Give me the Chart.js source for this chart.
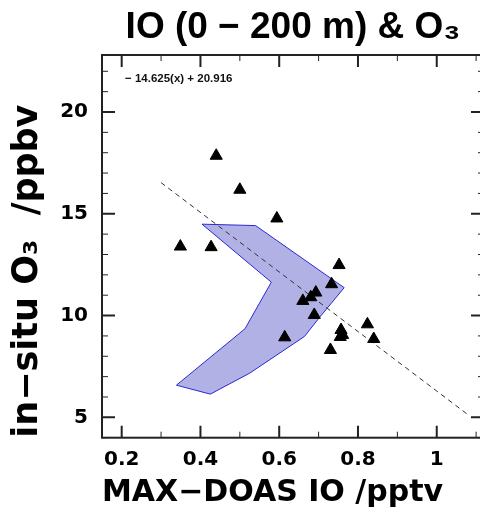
<!DOCTYPE html>
<html>
<head>
<meta charset="utf-8">
<script src="https://cdn.jsdelivr.net/npm/chart.js@4/dist/chart.umd.min.js"></script>
<style>
  html, body { margin: 0; padding: 0; background: #fff; overflow: hidden; }
  #chart { display: block; }
</style>
</head>
<body>
<canvas id="chart" width="492" height="517"></canvas>
<script>
// observed points (MAX-DOAS IO vs in-situ O3)
const obsX = [0.44, 0.50, 0.594, 0.349, 0.427, 0.752, 0.733, 0.693, 0.680, 0.660, 0.689, 0.614, 0.824, 0.757, 0.761, 0.755, 0.840, 0.730];
const obsY = [17.85, 16.18, 14.77, 13.39, 13.36, 12.48, 11.54, 11.13, 10.90, 10.72, 10.03, 8.93, 9.57, 9.29, 9.05, 8.95, 8.85, 8.31];

// shaded envelope, outline in drawing order
const bandX = [0.404, 0.540, 0.765, 0.702, 0.664, 0.525, 0.425, 0.339, 0.513, 0.580, 0.404];
const bandY = [14.49, 14.42, 11.37, 9.90, 8.97, 7.17, 6.14, 6.58, 9.35, 11.64, 14.49];

// fitted line, end points
const fitX = [0.30, 1.078];
const fitY = [16.53, 5.15];
const fitText = "− 14.625(x) + 20.916";

const xRange = [0.15, 1.12];
const yRange = [4.0, 22.8];

const toXY = (xs, ys) => xs.map((x, i) => ({ x: x, y: ys[i] }));
const isMult = (v, step) => Math.abs(Math.round(v / step) - v / step) < 1e-6;

// frame with inward ticks on all four sides + fit equation
const frameTicks = {
  id: 'frameTicks',
  afterDraw(chart) {
    const { ctx, chartArea: a, scales } = chart;
    ctx.save();
    ctx.strokeStyle = '#222';
    scales.x.ticks.forEach(t => {
      const px = scales.x.getPixelForValue(t.value);
      const major = isMult(t.value, 0.2);
      const len = major ? 12 : 6;
      ctx.lineWidth = major ? 2 : 1;
      ctx.beginPath();
      ctx.moveTo(px, a.bottom); ctx.lineTo(px, a.bottom - len);
      ctx.moveTo(px, a.top); ctx.lineTo(px, a.top + len);
      ctx.stroke();
    });
    scales.y.ticks.forEach(t => {
      const py = scales.y.getPixelForValue(t.value);
      const major = isMult(t.value, 5);
      const len = major ? 13 : 6;
      ctx.lineWidth = major ? 2 : 1;
      ctx.beginPath();
      ctx.moveTo(a.left, py); ctx.lineTo(a.left + len, py);
      ctx.moveTo(a.right, py); ctx.lineTo(a.right - len, py);
      ctx.stroke();
    });
    ctx.lineWidth = 2;
    ctx.strokeRect(a.left, a.top, a.right - a.left, a.bottom - a.top);

    ctx.fillStyle = '#111';
    ctx.font = 'bold 11.5px "Liberation Sans", Arial';
    ctx.textBaseline = 'alphabetic';
    ctx.fillText(fitText, a.left + 23, a.top + 27);
    ctx.restore();
  }
};

new Chart(document.getElementById('chart'), {
  type: 'scatter',
  data: {
    datasets: [
      {
        label: 'obs',
        data: toXY(obsX, obsY),
        pointStyle: 'triangle',
        pointRadius: 7,
        backgroundColor: '#000',
        borderColor: '#000',
        borderWidth: 1
      },
      {
        label: 'fit',
        data: toXY(fitX, fitY),
        showLine: true,
        pointRadius: 0,
        borderColor: '#333',
        borderWidth: 1,
        borderDash: [5, 4]
      },
      {
        label: 'band',
        data: toXY(bandX, bandY),
        showLine: true,
        tension: 0,
        pointRadius: 0,
        borderColor: '#2a2ad2',
        borderWidth: 1,
        backgroundColor: '#b1b1e6',
        fill: 'shape'
      }
    ]
  },
  options: {
    responsive: false,
    animation: false,
    layout: { padding: 0 },
    plugins: {
      legend: { display: false },
      tooltip: { enabled: false },
      title: {
        display: true,
        text: 'IO (0 − 200 m) & O₃',
        fullSize: false,
        color: '#000',
        font: { family: '"Liberation Sans", Arial', size: 37, weight: 'bold', lineHeight: 1.2 },
        padding: { top: 6, bottom: 4.6 }
      }
    },
    scales: {
      x: {
        type: 'linear',
        min: xRange[0],
        max: xRange[1],
        grid: { display: false, drawTicks: false },
        border: { display: false },
        ticks: {
          stepSize: 0.1,
          includeBounds: false,
          autoSkip: false,
          maxRotation: 0,
          padding: 10,
          color: '#000',
          font: { family: '"DejaVu Sans"', size: 20, weight: 'bold' },
          callback: v => isMult(v, 0.2) ? String(Math.round(v * 10) / 10) : ''
        },
        title: {
          display: true,
          text: 'MAX−DOAS IO /pptv',
          align: 'start',
          color: '#000',
          font: { family: '"DejaVu Sans"', size: 30, weight: 'bold', lineHeight: 1.2 },
          padding: { top: 0, bottom: 6 }
        },
        afterFit: s => { s.height = 79.3; }
      },
      y: {
        type: 'linear',
        min: yRange[0],
        max: yRange[1],
        grid: { display: false, drawTicks: false },
        border: { display: false },
        ticks: {
          stepSize: 1,
          includeBounds: false,
          autoSkip: false,
          padding: 14,
          color: '#000',
          font: { family: '"DejaVu Sans"', size: 20, weight: 'bold' },
          callback: v => isMult(v, 5) ? String(Math.round(v)) : ''
        },
        title: {
          display: true,
          text: 'in−situ O₃  /ppbv',
          align: 'start',
          color: '#000',
          font: { family: '"DejaVu Sans"', size: 35, weight: 'bold', lineHeight: 1.2 },
          padding: { top: 6.5, bottom: 0 }
        },
        afterFit: s => { s.width = 102; }
      }
    }
  },
  plugins: [frameTicks]
});
</script>
</body>
</html>
